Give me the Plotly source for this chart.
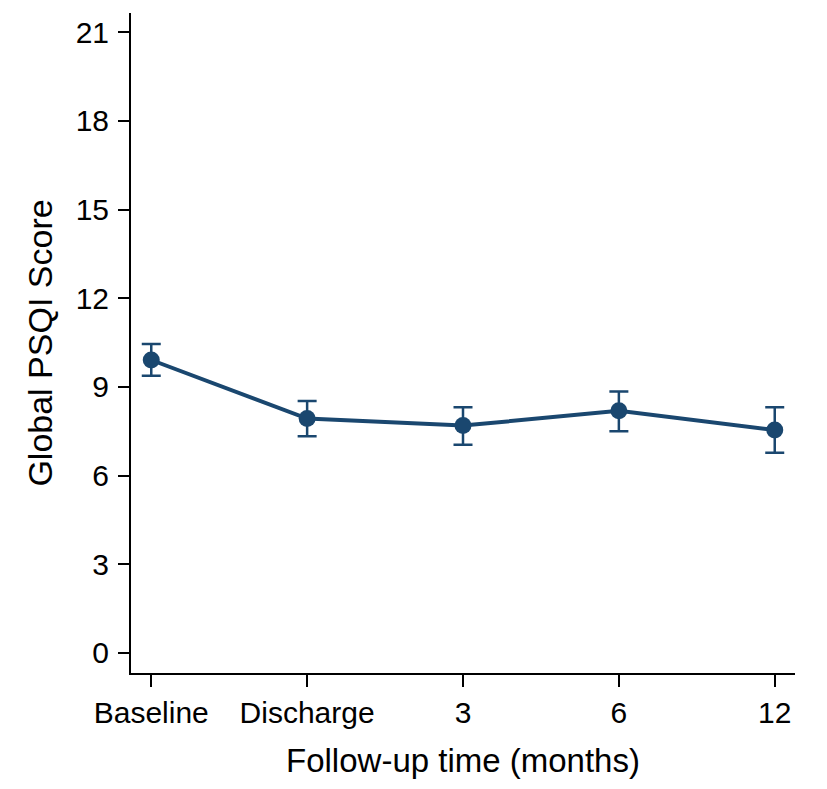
import plotly.graph_objects as go

# follow-up points and global PSQI score (mean with 95% CI)
timepoints = ['Baseline', 'Discharge', '3', '6', '12']
psqi_mean = [9.91, 7.93, 7.69, 8.19, 7.54]
ci_lower = [9.38, 7.33, 7.04, 7.50, 6.77]
ci_upper = [10.45, 8.52, 8.31, 8.84, 8.31]

y_ticks = [0, 3, 6, 9, 12, 15, 18, 21]

navy = '#1a476f'

err_plus = [u - m for u, m in zip(ci_upper, psqi_mean)]
err_minus = [m - l for m, l in zip(psqi_mean, ci_lower)]

fig = go.Figure()
fig.add_trace(go.Scatter(
    x=timepoints,
    y=psqi_mean,
    mode='lines+markers',
    line=dict(color=navy, width=4),
    marker=dict(color=navy, size=17),
    error_y=dict(type='data', symmetric=False, array=err_plus, arrayminus=err_minus,
                 color=navy, thickness=2.5, width=9.5),
    showlegend=False,
))

font = 'Liberation Sans, Arial, sans-serif'

fig.update_layout(
    width=827, height=789,
    margin=dict(l=123, r=40, t=5, b=124),
    paper_bgcolor='white', plot_bgcolor='white',
    font=dict(family=font, color='black'),
)
fig.update_xaxes(
    type='category',
    range=[-0.13, 4.13],
    showline=True, linecolor='black', linewidth=2,
    ticks='outside', ticklen=12, tickwidth=2, tickcolor='black',
    tickfont=dict(size=30), ticklabelstandoff=0,
    showgrid=False, zeroline=False,
    title=dict(text='Follow-up time (months)', font=dict(size=33), standoff=21),
)
fig.update_yaxes(
    range=[-0.68, 21.65],
    tickvals=y_ticks,
    showline=True, linecolor='black', linewidth=2,
    ticks='outside', ticklen=11, tickwidth=2, tickcolor='black',
    tickfont=dict(size=30), ticklabelstandoff=3,
    showgrid=False, zeroline=False,
    title=dict(text='Global PSQI Score', font=dict(size=34), standoff=13),
)

fig.write_html('out.html')
